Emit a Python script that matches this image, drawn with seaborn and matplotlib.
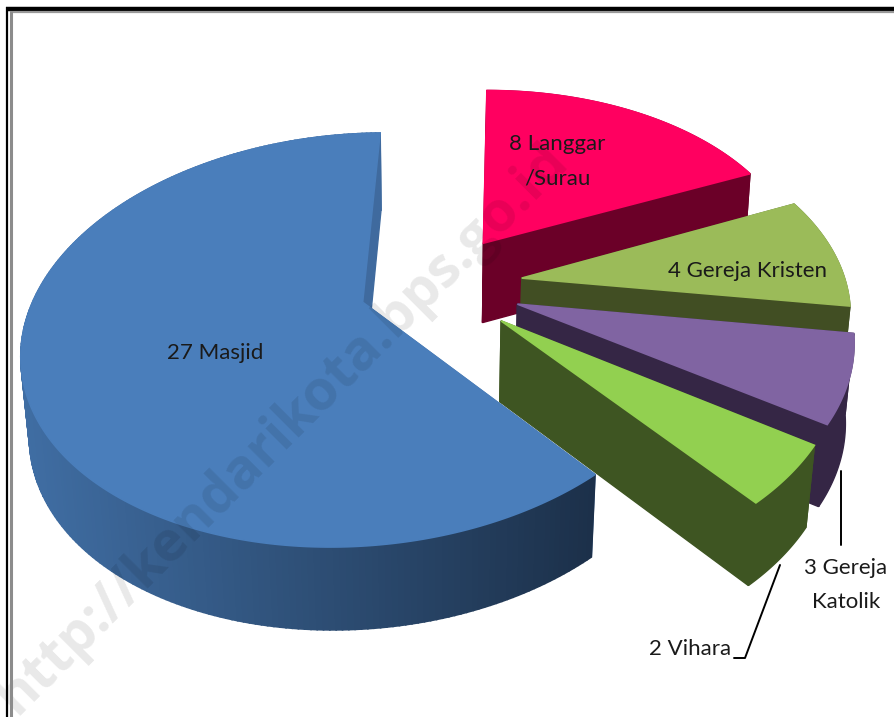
import numpy as np
import matplotlib
matplotlib.use("Agg")
import matplotlib.pyplot as plt
import seaborn as sns

# Rumah ibadah per jenis
names = ["Masjid", "Langgar\n/Surau", "Gereja Kristen", "Gereja\nKatolik", "Vihara"]
counts = [27, 8, 4, 3, 2]

top_colors = ["#4a7ebb", "#ff0060", "#9bbb59", "#8064a2", "#92d050"]
side_colors = ["#3f6a9e", "#6b0028", "#414e23", "#352645", "#3e5522"]
explode = [0.232, 0.27, 0.27, 0.27, 0.27]

# Camera settings for the fake 3D look
CX, CY = 435, 285.5
RX, RY = 325, 194
PERSP = 0.18
SKEW = 0.04
SHRINK = 0.02
DEPTH = 81
MASJID_ANGLE = 91
FIRST_ANGLE = 90


def project(x, y, z=0.0):
    s = 1 / (1 + PERSP * y + SHRINK * z)
    return CX + RX * (x + SKEW * y) * s, CY - RY * y * s + z * DEPTH * np.sqrt(s)


def slice_angles():
    # each slice goes clockwise from the top, Masjid takes the rest counter clockwise
    total = sum(counts)
    sweeps = [c / total * 360 for c in counts]
    ranges = [(MASJID_ANGLE, MASJID_ANGLE + sweeps[0])]
    start = FIRST_ANGLE
    for sw in sweeps[1:]:
        ranges.append((start, start - sw))
        start -= sw
    return ranges


def draw_slice(ax, idx, a0, a1, zorder):
    mid = np.radians((a0 + a1) / 2)
    ox, oy = explode[idx] * np.cos(mid), explode[idx] * np.sin(mid)
    th = np.radians(np.linspace(a0, a1, 241))
    ex, ey = ox + np.cos(th), oy + np.sin(th)

    # the two cut faces
    for end in (0, -1):
        fx = [ox, ex[end], ex[end], ox]
        fy = [oy, ey[end], ey[end], oy]
        fz = [0, 0, 1, 1]
        px, py = project(np.array(fx), np.array(fy), np.array(fz))
        ax.fill(px, py, color=side_colors[idx], lw=1, zorder=zorder)

    # outer wall
    tx, ty = project(ex, ey, 0.0)
    bx, by = project(ex, ey, 1.0)
    if idx == 0:
        for i in range(len(tx) - 1):
            t = np.clip((tx[i] - 22) / (590 - 22), 0, 1)
            col = (0.25 - 0.14 * t, 0.43 - 0.24 * t, 0.64 - 0.35 * t)
            if ey[i] > 0:
                col = side_colors[0]
            ax.fill([tx[i], tx[i + 1], bx[i + 1], bx[i]],
                    [ty[i], ty[i + 1], by[i + 1], by[i]], color=col, lw=1.2, zorder=zorder)
    else:
        ax.fill(np.r_[tx, bx[::-1]], np.r_[ty, by[::-1]], color=side_colors[idx], lw=1, zorder=zorder)

    # top face
    ax_, ay_ = project(ox, oy, 0.0)
    ax.fill(np.r_[ax_, tx], np.r_[ay_, ty], color=top_colors[idx], lw=1.2, zorder=zorder + 0.5)


def main():
    sns.set_theme(style="white")
    plt.rcParams["font.family"] = ["Lato", "DejaVu Sans"]
    fig = plt.figure(figsize=(8.95, 7.17), dpi=100)
    ax = fig.add_axes([0, 0, 1, 1])
    ax.set_xlim(0, 895)
    ax.set_ylim(717, 0)
    ax.axis("off")

    ranges = slice_angles()
    # back to front, Masjid last
    for order, idx in enumerate([1, 2, 3, 4, 0]):
        draw_slice(ax, idx, ranges[idx][0], ranges[idx][1], 2 + order)

    # frame on the left and top only
    ax.plot([6, 895], [9, 9], color="black", lw=3.2, zorder=10, solid_capstyle="butt")
    ax.plot([10, 895], [12, 12], color="#999999", lw=1.6, zorder=10, solid_capstyle="butt")
    ax.plot([7, 7], [7, 717], color="black", lw=1.6, zorder=10, solid_capstyle="butt")
    ax.plot([11.5, 11.5], [11, 717], color="#8c8c8c", lw=2.2, zorder=10, solid_capstyle="butt")

    # leader lines
    ax.plot([841, 841], [471, 545], color="black", lw=1.4, zorder=11)
    ax.plot([780, 745, 734], [565, 658, 658], color="black", lw=1.4, zorder=11)

    label_pos = [(215, 353), (557, 161), (748, 271), (846, 585), (690, 649)]
    for name, count, (x, y) in zip(names, counts, label_pos):
        ax.text(x, y, f"{count} {name}", ha="center", va="center", fontsize=16,
                color="#1a1a1a", linespacing=1.9, zorder=12)

    ax.text(283, 429, "http://kendarikota.bps.go.id", rotation=45, rotation_mode="anchor",
            ha="center", va="center", fontsize=40, fontweight="bold", family="Open Sans",
            color="black", alpha=0.09, zorder=9)

    fig.savefig("out.png", dpi=100, facecolor="white")


if __name__ == "__main__":
    main()
